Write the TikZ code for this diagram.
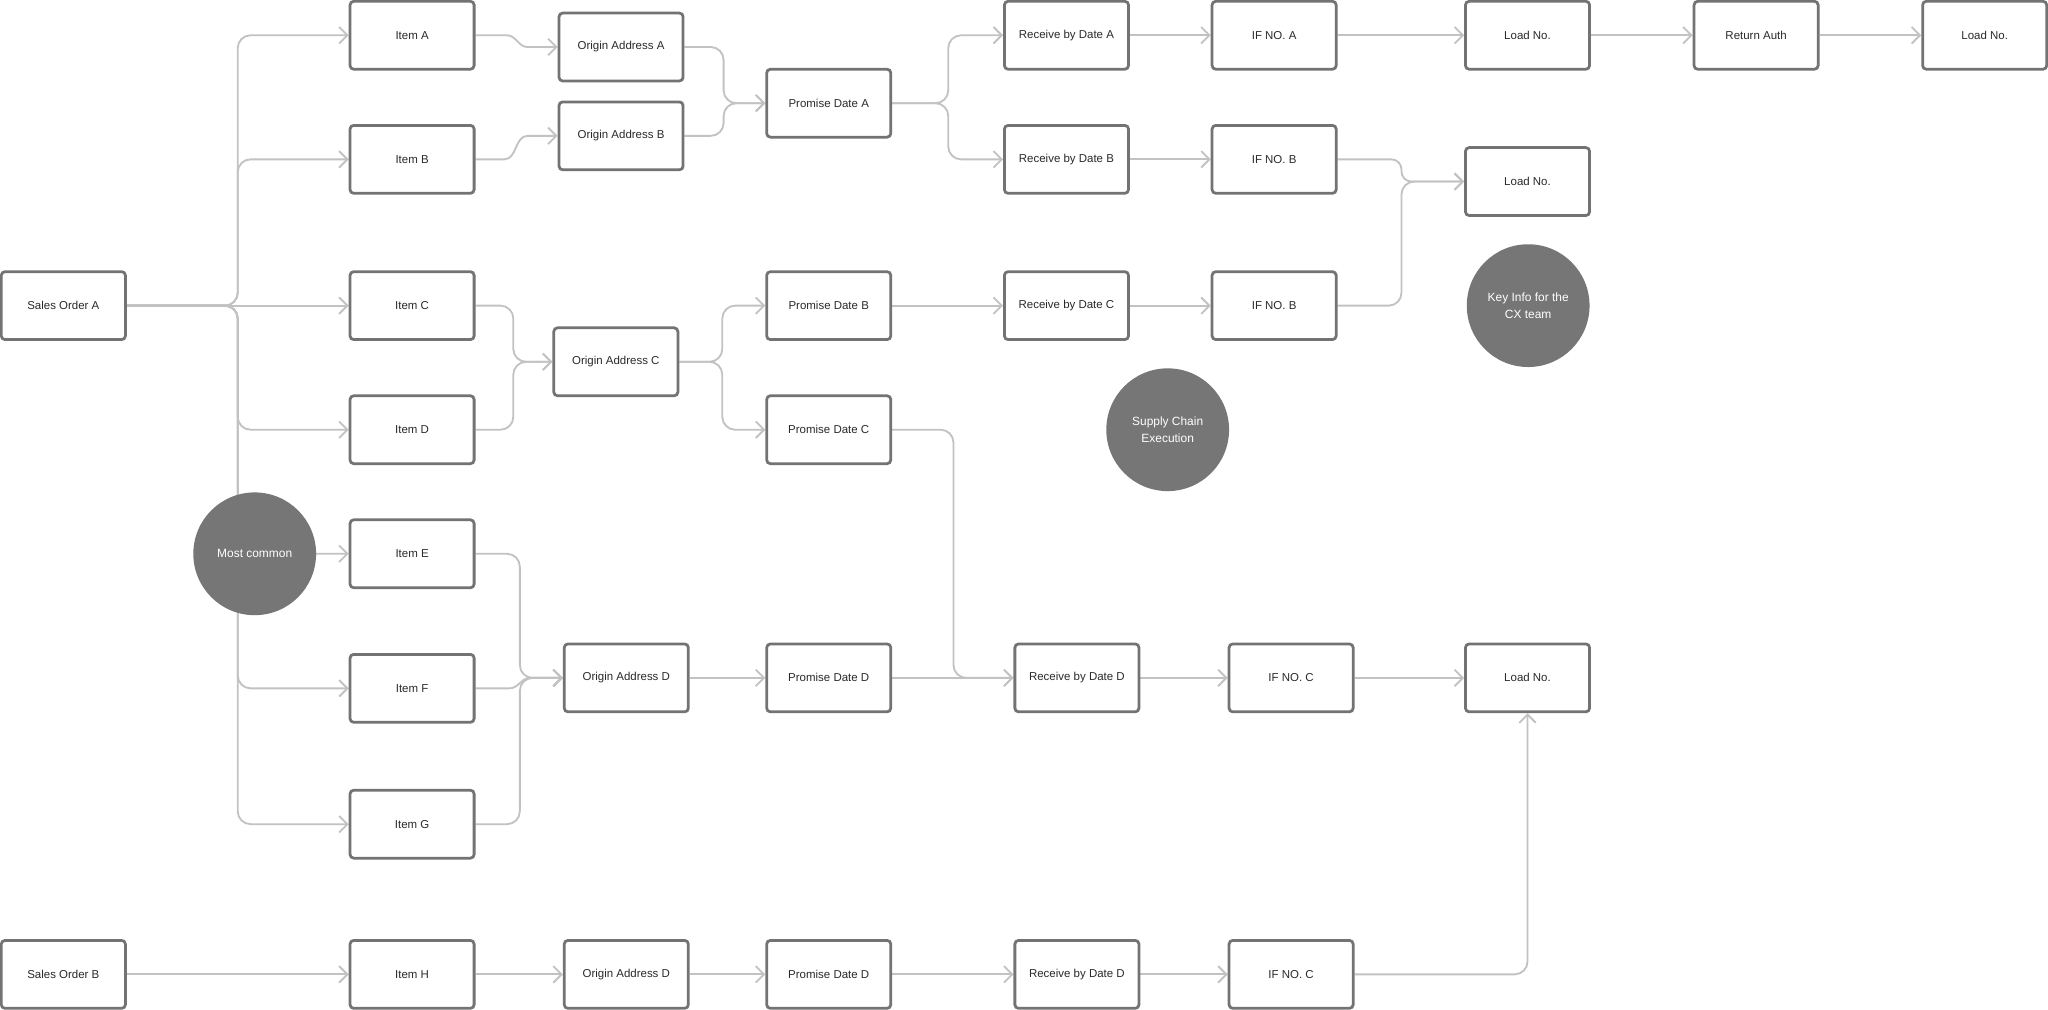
\documentclass[tikz,border=0pt]{standalone}
\usepackage{fontspec}
\setmainfont{Liberation Sans}
\usetikzlibrary{arrows.meta,backgrounds}
\definecolor{boxc}{HTML}{737373}
\definecolor{linec}{HTML}{C2C2C2}
\definecolor{circc}{HTML}{767676}
\definecolor{txtc}{HTML}{2A2A2A}
\begin{document}
\begin{tikzpicture}[x=0.05cm,y=-0.05cm,
  box/.style={draw=boxc, line width=3pt, rounded corners=4pt, fill=white,
    minimum width=4.75cm, minimum height=2.6cm, inner sep=0pt, text=txtc,
    font=\fontsize{12.5}{15}\selectfont},
  circ/.style={circle, fill=circc, minimum size=4.7cm, inner sep=0pt,
    text=white, align=center, font=\fontsize{13}{18.5}\selectfont},
  conn/.style={draw=linec, line width=2pt, -{Straight Barb[length=9pt,width=18pt]}},
  rc/.style={rounded corners=14pt},
  rcs/.style={rounded corners=11pt}
]
\useasboundingbox (0,0) rectangle (1568,773);

% column 1
\node[box] (soa) at (48.5,234) {Sales Order A};
\node[box] (sob) at (48.5,746) {Sales Order B};
% items
\node[box] (ia) at (315.5,27) {Item A};
\node[box] (ib) at (315.5,122) {Item B};
\node[box] (ic) at (315.5,234) {Item C};
\node[box] (id) at (315.5,329) {Item D};
\node[box] (ie) at (315.5,424) {Item E};
\node[box] (itf) at (315.5,527) {Item F};
\node[box] (ig) at (315.5,631) {Item G};
\node[box] (ih) at (315.5,746) {Item H};
% origin addresses
\node[box] (oaa) at (475.5,36) {Origin Address A};
\node[box] (oab) at (475.5,104) {Origin Address B};
\node[box] (oac) at (471.5,277) {Origin Address C};
\node[box] (oad) at (479.5,519) {Origin Address D};
\node[box] (oad2) at (479.5,746) {Origin Address D};
% promise dates
\node[box] (pda) at (634.5,79) {Promise Date A};
\node[box] (pdb) at (634.5,234) {Promise Date B};
\node[box] (pdc) at (634.5,329) {Promise Date C};
\node[box] (pdd) at (634.5,519) {Promise Date D};
\node[box] (pdd2) at (634.5,746) {Promise Date D};
% receive by dates
\node[box] (rda) at (816.5,27) {Receive by Date A};
\node[box] (rdb) at (816.5,122) {Receive by Date B};
\node[box] (rdc) at (816.5,234) {Receive by Date C};
\node[box] (rdd) at (824.5,519) {Receive by Date D};
\node[box] (rdd2) at (824.5,746) {Receive by Date D};
% IF numbers
\node[box] (ifa) at (975.5,27) {IF NO. A};
\node[box] (ifb) at (975.5,122) {IF NO. B};
\node[box] (ifb2) at (975.5,234) {IF NO. B};
\node[box] (ifc) at (988.5,519) {IF NO. C};
\node[box] (ifc2) at (988.5,746) {IF NO. C};
% load numbers etc
\node[box] (la) at (1169.5,27) {Load No.};
\node[box] (lb) at (1169.5,139) {Load No.};
\node[box] (lc) at (1169.5,519) {Load No.};
\node[box] (ra) at (1344.5,27) {Return Auth};
\node[box] (ld) at (1519.5,27) {Load No.};
% circles
\node[circ] (mc) at (195,424) {Most common};
\node[circ] (sce) at (894,329) {Supply Chain\\Execution};
\node[circ] (key) at (1170,234) {Key Info for the\\CX team};

\begin{pgfonlayer}{background}
\fill[white] (0,0) rectangle (1568,773);
% trunk from Sales Order A
\draw[conn,rc] (soa.east) -| (182,27) -- (ia.west);
\draw[conn,rc] (soa.east) -| (182,122) -- (ib.west);
\draw[conn] (soa.east) -- (ic.west);
\draw[conn,rc] (soa.east) -| (182,329) -- (id.west);
\draw[conn,rc] (soa.east) -| (182,424) -- (ie.west);
\draw[conn,rc] (soa.east) -| (182,527) -- (itf.west);
\draw[conn,rc] (soa.east) -| (182,631) -- (ig.west);
% items to origin addresses
\draw[conn] (ia.east) -- (388,27) to[out=0,in=180] (404,36) -- (oaa.west);
\draw[conn] (ib.east) -- (386,122) to[out=0,in=180] (404,104) -- (oab.west);
\draw[conn,rc] (ic.east) -| (393,277) -- (oac.west);
\draw[conn,rc] (id.east) -| (393,277) -- (oac.west);
\draw[conn,rc] (ie.east) -| (398,519) -- (oad.west);
\draw[conn] (itf.east) -- (390,527) to[out=0,in=180] (406,519) -- (oad.west);
\draw[conn,rc] (ig.east) -| (398,519) -- (oad.west);
\draw[conn] (ih.east) -- (oad2.west);
\draw[conn] (sob.east) -- (ih.west);
% origin addresses to promise dates
\draw[conn,rc] (oaa.east) -| (554,79) -- (pda.west);
\draw[conn,rc] (oab.east) -| (554,79) -- (pda.west);
\draw[conn,rc] (oac.east) -| (553,234) -- (pdb.west);
\draw[conn,rc] (oac.east) -| (553,329) -- (pdc.west);
\draw[conn] (oad.east) -- (pdd.west);
\draw[conn] (oad2.east) -- (pdd2.west);
% promise dates to receive by dates
\draw[conn,rc] (pda.east) -| (726,27) -- (rda.west);
\draw[conn,rc] (pda.east) -| (726,122) -- (rdb.west);
\draw[conn] (pdb.east) -- (rdc.west);
\draw[conn,rc] (pdc.east) -| (730,519) -- (rdd.west);
\draw[conn] (pdd.east) -- (rdd.west);
\draw[conn] (pdd2.east) -- (rdd2.west);
% receive by dates to IF numbers
\draw[conn] (rda.east) -- (ifa.west);
\draw[conn] (rdb.east) -- (ifb.west);
\draw[conn] (rdc.east) -- (ifb2.west);
\draw[conn] (rdd.east) -- (ifc.west);
\draw[conn] (rdd2.east) -- (ifc2.west);
% IF numbers to load numbers
\draw[conn] (ifa.east) -- (la.west);
\draw[conn,rcs] (ifb.east) -| (1073,139) -- (lb.west);
\draw[conn,rc] (ifb2.east) -| (1073,139) -- (lb.west);
\draw[conn] (ifc.east) -- (lc.west);
\draw[conn,rc] (ifc2.east) -| (lc.south);
\draw[conn] (la.east) -- (ra.west);
\draw[conn] (ra.east) -- (ld.west);
\end{pgfonlayer}
\end{tikzpicture}
\end{document}
